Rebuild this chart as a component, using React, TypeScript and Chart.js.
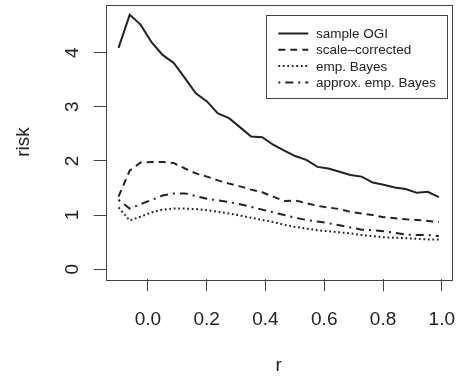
import React, { useEffect, useRef } from "react";
import { Chart, registerables } from "chart.js";

Chart.register(...registerables);

// ---- data ----
const rValues = [
  -0.1, -0.062, -0.025, 0.013, 0.05, 0.088, 0.126, 0.163, 0.201, 0.238,
  0.276, 0.314, 0.351, 0.389, 0.426, 0.464, 0.501, 0.539, 0.577, 0.614,
  0.652, 0.689, 0.727, 0.765, 0.802, 0.84, 0.877, 0.915, 0.952, 0.99,
];
const sampleOGI = [
  4.09, 4.7, 4.52, 4.19, 3.96, 3.81, 3.53, 3.25, 3.1, 2.88,
  2.79, 2.62, 2.45, 2.44, 2.3, 2.19, 2.09, 2.02, 1.89, 1.86,
  1.8, 1.74, 1.71, 1.6, 1.56, 1.51, 1.48, 1.41, 1.43, 1.33,
];
const scaleCorrected = [
  1.34, 1.82, 1.97, 1.98, 1.98, 1.96, 1.86, 1.77, 1.71, 1.64,
  1.58, 1.53, 1.47, 1.42, 1.34, 1.26, 1.27, 1.22, 1.17, 1.14,
  1.11, 1.06, 1.03, 1.0, 0.96, 0.94, 0.92, 0.91, 0.89, 0.87,
];
const empBayes = [
  1.14, 0.9, 0.97, 1.05, 1.1, 1.12, 1.12, 1.11, 1.09, 1.06,
  1.03, 0.99, 0.95, 0.91, 0.87, 0.82, 0.78, 0.75, 0.72, 0.7,
  0.68, 0.66, 0.63, 0.61, 0.59, 0.58, 0.57, 0.56, 0.55, 0.55,
];
const approxEmpBayes = [
  1.28, 1.12, 1.2, 1.28, 1.36, 1.4, 1.4, 1.35, 1.3, 1.27,
  1.24, 1.2, 1.15, 1.1, 1.05, 1.0, 0.95, 0.91, 0.88, 0.85,
  0.81, 0.77, 0.73, 0.72, 0.7, 0.67, 0.64, 0.63, 0.63, 0.61,
];
const seriesLabels = ["sample OGI", "scale\u2013corrected", "emp. Bayes", "approx. emp. Bayes"];
const xTicks = [0, 0.2, 0.4, 0.6, 0.8, 1.0];
const yTicks = [0, 1, 2, 3, 4];
const X_MIN = -0.1436;
const X_MAX = 1.0336;
const Y_MIN = -0.188;
const Y_MAX = 4.888;

// ---- styles ----
const FONT = "'Liberation Sans', Arial, Helvetica, sans-serif";
const INK = "#222";
const FRAME = "#444";
const dashStyles: number[][] = [[], [7, 5], [1.8, 2.7], [2, 5, 8, 5]];

const boxAndLegend = {
  id: "boxAndLegend",
  afterDraw(chart: any) {
    const { ctx, chartArea } = chart;
    ctx.save();
    ctx.strokeStyle = FRAME;
    ctx.lineWidth = 1;
    ctx.setLineDash([]);
    ctx.strokeRect(
      Math.round(chartArea.left) + 0.5,
      Math.round(chartArea.top) + 0.5,
      Math.round(chartArea.right - chartArea.left),
      Math.round(chartArea.bottom - chartArea.top)
    );
    // legend
    const lx = 266, ly = 15, lw = 181, lh = 83;
    ctx.strokeRect(lx + 0.5, ly + 0.5, lw, lh);
    ctx.font = `13.5px ${FONT}`;
    ctx.fillStyle = INK;
    ctx.textBaseline = "alphabetic";
    ctx.textAlign = "left";
    chart.data.datasets.forEach((ds: any, i: number) => {
      const base = 38 + i * 16.3;
      const my = base - 4.5;
      ctx.beginPath();
      ctx.strokeStyle = ds.borderColor;
      ctx.lineWidth = ds.borderWidth;
      ctx.setLineDash(ds.borderDash || []);
      ctx.moveTo(278.3, my);
      ctx.lineTo(308.3, my);
      ctx.stroke();
      ctx.setLineDash([]);
      ctx.fillText(ds.label, 316, base);
    });
    ctx.restore();
  },
};

export default function App() {
  const canvasRef = useRef<HTMLCanvasElement | null>(null);

  useEffect(() => {
    const canvas = canvasRef.current;
    if (!canvas) return;
    const seriesValues = [sampleOGI, scaleCorrected, empBayes, approxEmpBayes];
    const chart = new Chart(canvas, {
      type: "line",
      data: {
        datasets: seriesValues.map((vals, i) => ({
          label: seriesLabels[i],
          data: vals.map((v, j) => ({ x: rValues[j], y: v })),
          borderColor: INK,
          borderWidth: 2,
          borderDash: dashStyles[i],
          pointRadius: 0,
          tension: 0,
          fill: false,
        })),
      },
      options: {
        animation: false,
        responsive: false,
        devicePixelRatio: 1,
        layout: { padding: { top: 4.7, right: 11.3, left: 0, bottom: 0 } },
        plugins: {
          legend: { display: false },
          tooltip: { enabled: false },
        },
        scales: {
          x: {
            type: "linear",
            min: X_MIN,
            max: X_MAX,
            afterBuildTicks: (s: any) => {
              s.ticks = xTicks.map((v) => ({ value: v }));
            },
            afterFit: (s: any) => {
              s.height = 97.7;
              s.paddingLeft = 0;
              s.paddingRight = 0;
            },
            ticks: {
              autoSkip: false,
              maxRotation: 0,
              minRotation: 0,
              padding: 17,
              color: INK,
              font: { family: FONT, size: 19 },
              callback: (v: any) => Number(v).toFixed(1),
            },
            grid: {
              drawOnChartArea: false,
              drawTicks: true,
              tickLength: 12,
              color: FRAME,
              lineWidth: 1,
            },
            border: { display: false },
            title: {
              display: true,
              text: "r",
              color: INK,
              font: { family: FONT, size: 19, lineHeight: 1.2 },
              padding: { top: 0, bottom: 0 },
            },
          },
          y: {
            type: "linear",
            min: Y_MIN,
            max: Y_MAX,
            afterBuildTicks: (s: any) => {
              s.ticks = yTicks.map((v) => ({ value: v }));
            },
            afterFit: (s: any) => {
              s.width = 105.7;
              s.paddingTop = 0;
              s.paddingBottom = 0;
            },
            ticks: {
              autoSkip: false,
              minRotation: 90,
              maxRotation: 90,
              crossAlign: "center",
              padding: 15.9,
              color: INK,
              font: { family: FONT, size: 19 },
              callback: (v: any) => String(v),
            },
            grid: {
              drawOnChartArea: false,
              drawTicks: true,
              tickLength: 12,
              color: FRAME,
              lineWidth: 1,
            },
            border: { display: false },
            title: {
              display: true,
              text: "risk",
              color: INK,
              font: { family: FONT, size: 19, lineHeight: 1.2 },
              padding: { top: 12.6, bottom: 0 },
            },
          },
        },
      },
      plugins: [boxAndLegend],
    } as any);
    return () => chart.destroy();
  }, []);

  return (
    <div style={{ position: "fixed", left: 0, top: 0, width: 463, height: 377, background: "#fff" }}>
      <canvas ref={canvasRef} width={463} height={377} style={{ width: 463, height: 377, display: "block" }} />
    </div>
  );
}
